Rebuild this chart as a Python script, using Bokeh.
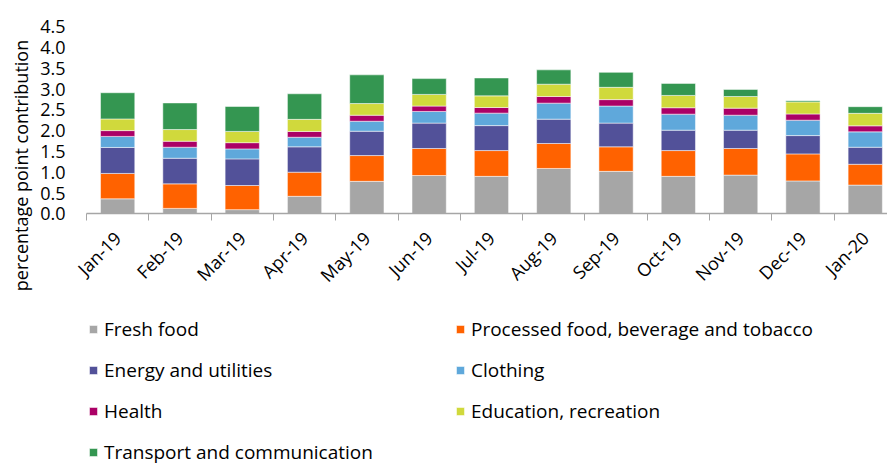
import math
from bokeh.plotting import figure
from bokeh.models import (ColumnDataSource, Range1d, FixedTicker, Legend, LegendItem, Label)
from bokeh.embed import file_html
from bokeh.resources import INLINE

months = ["Jan-19", "Feb-19", "Mar-19", "Apr-19", "May-19", "Jun-19", "Jul-19",
          "Aug-19", "Sep-19", "Oct-19", "Nov-19", "Dec-19", "Jan-20"]
fresh_food = [0.36, 0.13, 0.10, 0.42, 0.78, 0.92, 0.90, 1.09, 1.02, 0.90, 0.93, 0.79, 0.69]
processed_food = [0.61, 0.59, 0.58, 0.58, 0.62, 0.65, 0.62, 0.60, 0.59, 0.62, 0.64, 0.65, 0.50]
energy = [0.625, 0.615, 0.64, 0.61, 0.585, 0.61, 0.60, 0.585, 0.57, 0.49, 0.44, 0.44, 0.41]
clothing = [0.265, 0.265, 0.24, 0.23, 0.24, 0.28, 0.30, 0.385, 0.41, 0.385, 0.36, 0.37, 0.37]
health = [0.14, 0.145, 0.15, 0.14, 0.145, 0.13, 0.135, 0.16, 0.155, 0.155, 0.17, 0.15, 0.145]
education = [0.28, 0.28, 0.27, 0.29, 0.28, 0.28, 0.28, 0.295, 0.295, 0.295, 0.28, 0.29, 0.30]
transport = [0.63, 0.64, 0.60, 0.615, 0.69, 0.38, 0.43, 0.345, 0.36, 0.29, 0.17, 0.03, 0.16]

series_names = ["Fresh food", "Processed food, beverage and tobacco", "Energy and utilities",
                "Clothing", "Health", "Education, recreation", "Transport and communication"]
series_values = [fresh_food, processed_food, energy, clothing, health, education, transport]
colors = ["#A6A6A6", "#FF6200", "#525199", "#5FA8DB", "#AB0066", "#D0D93C", "#349651"]
y_ticks = [0.0, 0.5, 1.0, 1.5, 2.0, 2.5, 3.0, 3.5, 4.0, 4.5]

FONT = "Open Sans"
W, H = 887, 464
X0, XSTEP = 86.0, 62.3      # pixel of x=0 and pixels per category
Y0, YSTEP = 213.3, 41.6     # pixel of y=0 and pixels per unit

keys = ["s%d" % i for i in range(len(series_names))]
data = {"x": [i + 0.5 for i in range(len(months))]}
for k, vals in zip(keys, series_values):
    data[k] = vals
source = ColumnDataSource(data)

p = figure(width=W, height=H, output_backend="svg", toolbar_location=None,
           x_range=Range1d(-X0 / XSTEP, (W - X0) / XSTEP),
           y_range=Range1d(-(H - Y0) / YSTEP, Y0 / YSTEP),
           min_border=0, min_border_left=0, min_border_right=0,
           min_border_top=0, min_border_bottom=0)
p.outline_line_color = None
p.xgrid.grid_line_color = None
p.ygrid.grid_line_color = None
p.background_fill_color = "white"
p.border_fill_color = "white"

rs = p.vbar_stack(keys, x="x", width=0.55, source=source, color=colors,
                  line_color="white", line_alpha=0.5, line_width=1)

# x axis
centers = [i + 0.5 for i in range(len(months))]
bounds = [float(i) for i in range(len(months) + 1)]
p.xaxis.fixed_location = 0
p.xaxis.bounds = (0, len(months))
p.xaxis.ticker = FixedTicker(ticks=centers, minor_ticks=bounds)
p.xaxis.major_label_overrides = {c: m for c, m in zip(centers, months)}
p.xaxis.major_label_orientation = math.pi / 4
p.xaxis.major_tick_in = 0
p.xaxis.major_tick_out = 0
p.xaxis.minor_tick_in = 0
p.xaxis.minor_tick_out = 7
p.xaxis.minor_tick_line_color = "#A6A6A6"
p.xaxis.axis_line_color = "#A6A6A6"
p.xaxis.axis_line_width = 1.5
p.xaxis.major_label_text_font = FONT
p.xaxis.major_label_text_font_size = "18px"
p.xaxis.major_label_text_color = "#000000"
p.xaxis.major_label_standoff = 14

# y axis
p.yaxis.fixed_location = 0
p.yaxis.bounds = (0, 4.5)
p.yaxis.ticker = FixedTicker(ticks=y_ticks)
p.yaxis.major_label_overrides = {t: "%.1f" % t for t in y_ticks}
p.yaxis.axis_line_color = None
p.yaxis.major_tick_line_color = None
p.yaxis.minor_tick_line_color = None
p.yaxis.major_tick_in = 0
p.yaxis.major_tick_out = 0
p.yaxis.major_label_standoff = 21
p.yaxis.major_label_text_font = FONT
p.yaxis.major_label_text_font_size = "18px"
p.yaxis.major_label_text_color = "#000000"

ytitle = Label(x=20, y=H - 165, x_units="screen", y_units="screen",
               text="percentage point contribution", angle=math.pi / 2,
               text_align="center", text_baseline="middle",
               text_font=FONT, text_font_size="18px", text_color="#000000")
p.add_layout(ytitle)

def make_legend(idx, loc):
    items = [LegendItem(label=series_names[i], renderers=[rs[i]]) for i in idx]
    return Legend(items=items, location=loc, orientation="vertical",
                  glyph_width=10, glyph_height=10, label_standoff=6,
                  label_text_font=FONT, label_text_font_size="19px",
                  label_text_color="#000000", label_height=26,
                  spacing=15, padding=0, margin=0,
                  border_line_color=None, background_fill_alpha=0)

p.add_layout(make_legend([0, 2, 4, 6], (88, -1)))
p.add_layout(make_legend([1, 3, 5], (455, 40)))

open("out.html", "w").write(file_html(p, INLINE))
